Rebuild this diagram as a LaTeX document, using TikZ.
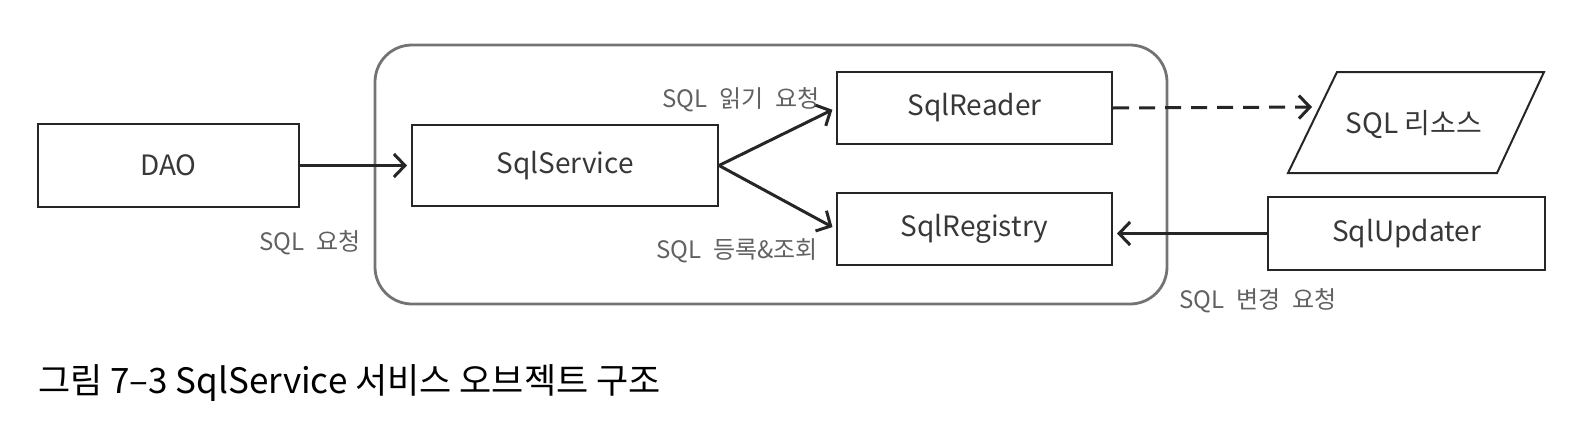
\documentclass[tikz,border=0pt]{standalone}
\usepackage{fontspec}
\setmainfont{Noto Sans CJK KR}
\usetikzlibrary{arrows.meta}

\begin{document}
\begin{tikzpicture}
		[x=0.5pt,y=-0.5pt,every node/.style={font=\fontsize{14}{16}\selectfont,text=black!78},
		box/.style={draw=black!85,line width=1pt,inner sep=0pt},
		lbl/.style={font=\fontsize{12}{14}\selectfont,text=black!62},
		edge/.style={-{Straight Barb[length=5.5pt,width=11.5pt]},line width=1.5pt,draw=black!85,shorten >=2pt}]
		\useasboundingbox (0,0) rectangle (1591,434);
		% service object boundary
		\draw[draw=black!55,line width=1.4pt,rounded corners=18.5pt] (375,45) rectangle (1167,304);
		
		\node[box,minimum width=130.5pt,minimum height=41.5pt] (dao) at (168.5,165.5) {DAO};
		\node[box,minimum width=153pt,minimum height=40.5pt] (svc) at (565,165.5) {SqlService};
		\node[box,minimum width=137.5pt,minimum height=36pt] (rdr) at (974.5,108) {SqlReader};
		\node[box,minimum width=137.5pt,minimum height=36pt] (reg) at (974.5,229) {SqlRegistry};
		\node[box,minimum width=138.5pt,minimum height=36.5pt] (upd) at (1406.5,233.5) {SqlUpdater};
		
		% resource (parallelogram)
		\node (res) at (1414,124) {SQL 리소스};
		\draw[box] (1288,173) -- (1337,72) -- (1544,72) -- (1497,173) -- cycle;
		\coordinate (resin) at (1316,107);
		
		\node[lbl] (l1) at (310,243) {SQL\enspace 요청};
		\node[lbl] (l2) at (741,100) {SQL\enspace 읽기\enspace 요청};
		\node[lbl] (l3) at (737,251) {SQL\enspace 등록\&조회};
		\node[lbl] (l4) at (1258,301) {SQL\enspace 변경\enspace 요청};
		
		\node[anchor=west,font=\fontsize{17.5}{19}\selectfont,text=black] (cap) at (31,383) {그림 7–3 SqlService 서비스 오브젝트 구조};
		
		\foreach \from/\to in {dao.east/svc.west,svc.east/rdr.west,svc.east/reg.west}
		\draw[edge] (\from) -- (\to);
		\draw[edge,dash pattern=on 8pt off 5pt] (rdr.east) -- (resin);
		\draw[edge] (upd.west) -- (upd.west -| reg.east);
\end{tikzpicture}
\end{document}
